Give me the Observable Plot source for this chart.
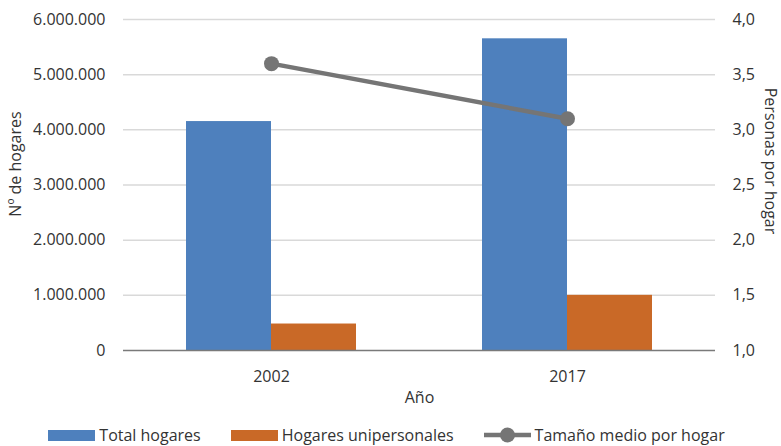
<!DOCTYPE html>
<html>
<head>
<meta charset="utf-8">
<script src="https://cdn.jsdelivr.net/npm/d3@7"></script>
<script src="https://cdn.jsdelivr.net/npm/@observablehq/plot@0.6"></script>
<style>
  html, body { margin: 0; padding: 0; background: #fff; }
  body { width: 781px; height: 446px; overflow: hidden; font-family: "Open Sans", sans-serif; }
  #legend { display: flex; justify-content: center; align-items: center; gap: 30px; font-size: 16px; color: #333; height: 22px; margin-left: -8px; }
  .item { display: flex; align-items: center; gap: 4px; }
  .sw { width: 47px; height: 11px; }
</style>
</head>
<body>
<div id="chart"></div>
<div id="legend"></div>
<script>
const years = ["2002", "2017"];
const totalHogares = [4150000, 5650000];
const hogaresUnipersonales = [480000, 1000000];
const tamanoMedio = [3.6, 3.1];
const leftTicks = [0, 1000000, 2000000, 3000000, 4000000, 5000000, 6000000];
const rightTicks = [1.0, 1.5, 2.0, 2.5, 3.0, 3.5, 4.0];
const seriesNames = ["Total hogares", "Hogares unipersonales", "Tamaño medio por hogar"];
const colors = ["#4e80bd", "#c96927", "#757575"];

const leftMax = 6000000, rightMin = 1.0, rightMax = 4.0;
const toLeft = v => (v - rightMin) / (rightMax - rightMin) * leftMax;
const locale = d3.formatLocale({decimal: ",", thousands: ".", grouping: [3], currency: ["", "€"]});
const fmtLeft = locale.format(",d");

const totals = years.map((y, i) => ({year: y, value: totalHogares[i]}));
const unis = years.map((y, i) => ({year: y, value: hogaresUnipersonales[i]}));
const sizes = years.map((y, i) => ({year: y, value: toLeft(tamanoMedio[i])}));

const W = 781, H = 424, mL = 123, mR = 66, mT = 19, mB = 74;
const band = (W - mL - mR) / years.length;
const barW = 85;
const half = band / 2;

const plot = Plot.plot({
  width: W, height: H,
  marginLeft: mL, marginRight: mR, marginTop: mT, marginBottom: mB,
  style: {fontFamily: "Open Sans, sans-serif", fontSize: "16px", color: "#404040", background: "#fff"},
  x: {type: "band", domain: years, padding: 0, axis: null},
  y: {domain: [0, leftMax], axis: null},
  marks: [
    Plot.ruleY(leftTicks.slice(1), {stroke: "#d9d9d9", strokeWidth: 1.5}),
    Plot.barY(totals, {x: "year", y: "value", fill: colors[0], insetLeft: half - barW, insetRight: half}),
    Plot.barY(unis, {x: "year", y: "value", fill: colors[1], insetLeft: half, insetRight: half - barW}),
    Plot.ruleY([0], {stroke: "#7a7a7a", strokeWidth: 1.5}),
    Plot.line(sizes, {x: "year", y: "value", stroke: colors[2], strokeWidth: 4.5}),
    Plot.dot(sizes, {x: "year", y: "value", fill: colors[2], r: 7.5}),
    Plot.axisY(leftTicks, {anchor: "left", tickSize: 0, tickPadding: 18, tickFormat: fmtLeft, label: null, fill: "#333"}),
    Plot.axisY(rightTicks.map(toLeft), {anchor: "right", tickSize: 0, tickPadding: 17, tickFormat: d => (rightMin + d / leftMax * (rightMax - rightMin)).toFixed(1).replace(".", ","), label: null, fill: "#333"}),
    Plot.axisX(years, {anchor: "bottom", tickSize: 0, tickPadding: 20, label: null, fill: "#333"}),
    Plot.text(["Año"], {frameAnchor: "bottom", dy: 52, fill: "#333", fontSize: 16}),
    Plot.text(["Nº de hogares"], {frameAnchor: "left", textAnchor: "middle", dx: -108, dy: -21, rotate: -90, fill: "#333", fontSize: 16}),
    Plot.text(["Personas por hogar"], {frameAnchor: "right", textAnchor: "middle", dx: 55, dy: -24, rotate: 90, fill: "#333", fontSize: 16})
  ]
});
document.getElementById("chart").appendChild(plot);

const legend = document.getElementById("legend");
seriesNames.forEach((name, i) => {
  const item = document.createElement("div");
  item.className = "item";
  if (i < 2) {
    item.innerHTML = `<div class="sw" style="background:${colors[i]}"></div><span>${name}</span>`;
  } else {
    item.innerHTML = `<svg width="47" height="16"><line x1="0" x2="47" y1="8" y2="8" stroke="${colors[i]}" stroke-width="4.5"/><circle cx="23.5" cy="8" r="7.5" fill="${colors[i]}"/></svg><span>${name}</span>`;
  }
  legend.appendChild(item);
});
</script>
</body>
</html>
